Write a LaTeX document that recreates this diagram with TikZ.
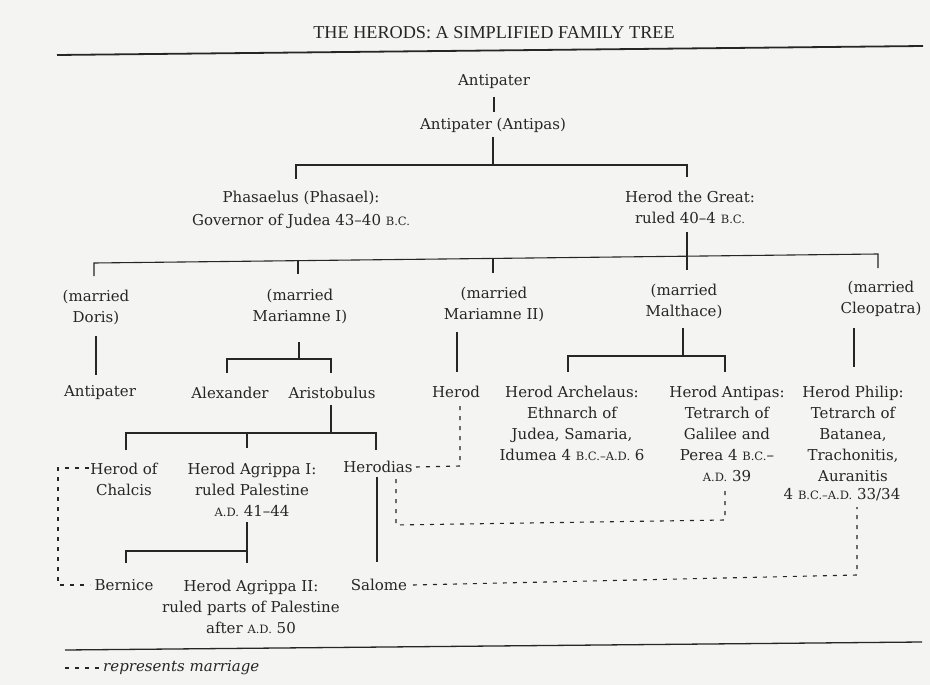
\documentclass[tikz,border=0pt]{standalone}
\usepackage{fontspec}
\setmainfont{DejaVu Serif}
\newfontfamily\titlefont{Liberation Serif}
\usetikzlibrary{calc}
\definecolor{ink}{RGB}{38,38,38}
\definecolor{paper}{RGB}{244,244,242}
\newcommand\smc[1]{{\fontsize{11.5}{11.5}\selectfont #1}}
\begin{document}
\begin{tikzpicture}[x=1pt,y=-1pt,
  tn/.style={align=center, inner sep=0pt, outer sep=0pt, text=ink, font=\fontsize{15}{21}\selectfont},
  ln/.style={draw=ink, line width=1.1pt},
  mar/.style={draw=ink, line width=1.1pt, dash pattern=on 4pt off 6pt},
  rule/.style={draw=ink, line width=1.8pt},
]
\fill[paper] (0,0) rectangle (930,685);
\useasboundingbox (0,0) rectangle (930,685);

% title and rules
\node[inner sep=0pt, text=ink, font=\titlefont\fontsize{18.2}{20}\selectfont] (title) at (494,33) {THE HERODS: A SIMPLIFIED FAMILY TREE};
\draw[rule] (57,55) -- (923,46);
\draw[rule, line width=1.3pt] (65,650) -- (922,642);

% people
\node[tn] (a1) at (494,82) {Antipater};
\node[tn] (a2) at (493,125) {Antipater (Antipas)};
\node[tn, font=\fontsize{15}{23}\selectfont] (phas) at (301,210) {Phasaelus (Phasael):\\Governor of Judea 43–40 \smc{B.C.}};
\node[tn] (hg) at (690,207.5) {Herod the Great:\\ruled 40–4 \smc{B.C.}};
\node[tn] (doris) at (96,307.5) {(married\\Doris)};
\node[tn] (mar1) at (300,306) {(married\\Mariamne I)};
\node[tn] (mar2) at (494,304) {(married\\Mariamne II)};
\node[tn] (malt) at (684,301.5) {(married\\Malthace)};
\node[tn] (cleo) at (881,299) {(married\\Cleopatra)};
\node[tn] (antip) at (100,393) {Antipater};
\node[tn] (alex) at (230,393) {Alexander};
\node[tn] (arist) at (332,393) {Aristobulus};
\node[tn] (herod) at (456,392) {Herod};
\node[tn] (arch) at (572,423.5) {Herod Archelaus:\\Ethnarch of\\Judea, Samaria,\\Idumea 4 \smc{B.C.–A.D.} 6};
\node[tn] (antipas) at (727,433.5) {Herod Antipas:\\Tetrarch of\\Galilee and\\Perea 4 \smc{B.C.}–\\\smc{A.D.} 39};
\node[tn] (philip) at (853,433.5) {Herod Philip:\\Tetrarch of\\Batanea,\\Trachonitis,\\Auranitis};
\node[tn] (philipd) at (842,495) {4 \smc{B.C.–A.D.} 33/34};
\node[tn] (chalcis) at (124,479) {Herod of\\Chalcis};
\node[tn] (agr1) at (252,489.5) {Herod Agrippa I:\\ruled Palestine\\\smc{A.D.} 41–44};
\node[tn] (herodias) at (378,467) {Herodias};
\node[tn] (bernice) at (124,585) {Bernice};
\node[tn] (agr2) at (251,606.5) {Herod Agrippa II:\\ruled parts of Palestine\\after \smc{A.D.} 50};
\node[tn] (salome) at (379,585) {Salome};

% connector coordinates
\coordinate (b1) at (493,165);
\coordinate (b2L) at (94,263);
\coordinate (b2R) at (878,254);

% Antipater -> Antipater (Antipas)
\draw[ln] (a1.south |- 0,97) -- (a1.south |- 0,112);
% Antipas -> Phasaelus, Herod the Great
\draw[ln] (a2.south |- 0,137) -- (b1);
\draw[ln] (296,179) -- (296,165) -- (687,165) -- (687,177);
% Herod the Great -> marriages
\draw[ln] (687,232) -- (687,270);
\draw[ln] (94,276) -- (b2L) -- (b2R) -- (878,268);
\draw[ln] (298,260.7) -- (298,274);
\draw[ln] (493,258.4) -- (493,273);
% Doris -> Antipater
\draw[ln] (96,336) -- (96,375);
% Mariamne I -> Alexander, Aristobulus
\draw[ln] (299,342) -- (299,359);
\draw[ln] (227,373) -- (227,359) -- (331,359) -- (331,373);
% Aristobulus -> Herod of Chalcis, Agrippa I, Herodias
\draw[ln] (331,405) -- (331,433);
\draw[ln] (126,450) -- (126,433) -- (376,433) -- (376,450);
\draw[ln] (247,433) -- (247,448);
% Agrippa I -> Bernice, Agrippa II
\draw[ln] (247,522) -- (247,563);
\draw[ln] (126,563) -- (126,551) -- (247,551);
% Herodias -> Salome
\draw[ln] (377,477) -- (377,562);
% Mariamne II -> Herod
\draw[ln] (457,332) -- (457,372);
% Malthace -> Archelaus, Antipas
\draw[ln] (683,328) -- (683,356);
\draw[ln] (568,372) -- (568,356) -- (725,356) -- (725,372);
% Cleopatra -> Philip
\draw[ln] (854,328) -- (854,367);

% marriages
\draw[mar] (416,467) -- (460,466) -- (460,405);
\draw[mar] (396,479) -- (396,525) -- (725,520) -- (725,488);
\draw[mar] (413,585) -- (857,575) -- (857,507);
\draw[mar] (89,468) -- (58,468) -- (58,585) -- (90,585);

% legend
\draw[mar] (65,668) -- (101,668);
\node[anchor=west, inner sep=0pt, text=ink, font=\fontsize{15}{18}\selectfont\itshape] (legend) at (103,668) {represents marriage};
\end{tikzpicture}
\end{document}
